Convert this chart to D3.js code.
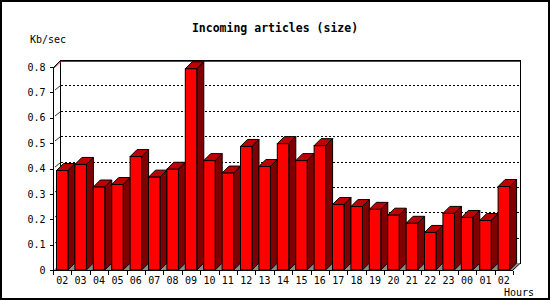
<!DOCTYPE html>
<html>
<head>
<meta charset="utf-8">
<script src="https://cdn.jsdelivr.net/npm/d3@7"></script>
<style>
  body { margin: 0; background: #fff; }
  svg text { font-family: "DejaVu Sans Mono", monospace; }
</style>
</head>
<body>
<div id="chart"></div>
<script>
// Hour labels and incoming size (Kb/sec)
const hours = ["02", "03", "04", "05", "06", "07", "08", "09", "10", "11", "12", "13",
               "14", "15", "16", "17", "18", "19", "20", "21", "22", "23", "00", "01", "02"];
const kbPerSec = [0.392, 0.416, 0.327, 0.337, 0.447, 0.366, 0.397, 0.793, 0.431, 0.382,
                  0.487, 0.408, 0.498, 0.431, 0.490, 0.258, 0.250, 0.239, 0.216, 0.184,
                  0.148, 0.223, 0.207, 0.195, 0.329];
const yTicks = [0, 0.1, 0.2, 0.3, 0.4, 0.5, 0.6, 0.7, 0.8];

const width = 550, height = 300;
const depth = 7;          // 3d offset
const plotLeft = 53, plotRight = 513, plotBottom = 270, plotTop = 67;

const svg = d3.select("#chart").append("svg")
    .attr("width", width)
    .attr("height", height);

// outer frame
svg.append("rect")
    .attr("x", 1).attr("y", 1)
    .attr("width", width - 2).attr("height", height - 2)
    .attr("fill", "#fff")
    .attr("stroke", "#000")
    .attr("stroke-width", 2);

const x = d3.scaleBand()
    .domain(d3.range(hours.length))
    .range([plotLeft, plotRight]);

const y = d3.scaleLinear()
    .domain([0, 0.8])
    .range([plotBottom, plotTop]);

const g = svg.append("g").attr("shape-rendering", "crispEdges");

// back plane edges
g.append("line")
    .attr("x1", plotLeft + depth + 0.5).attr("x2", plotLeft + depth + 0.5)
    .attr("y1", y(0.8) - depth).attr("y2", plotBottom - depth)
    .attr("stroke", "#000");
g.append("line")
    .attr("x1", plotRight + depth + 0.5).attr("x2", plotRight + depth + 0.5)
    .attr("y1", y(0.8) - depth).attr("y2", plotBottom - depth + 0.5)
    .attr("stroke", "#000");

// gridlines on back plane and left wall
const grid = yTicks.filter(t => t > 0 && t < 0.8);
g.selectAll("line.grid")
    .data(grid)
    .enter().append("line")
    .attr("class", "grid")
    .attr("x1", plotLeft + depth + 1).attr("x2", plotRight + depth)
    .attr("y1", d => Math.round(y(d)) - depth + 0.5)
    .attr("y2", d => Math.round(y(d)) - depth + 0.5)
    .attr("stroke", "#000")
    .attr("stroke-dasharray", "2,2");
svg.selectAll("line.wall")
    .data(grid)
    .enter().append("line")
    .attr("class", "wall")
    .attr("x1", plotLeft + 2).attr("x2", plotLeft + depth)
    .attr("y1", d => Math.round(y(d)) - 2)
    .attr("y2", d => Math.round(y(d)) - depth + 1)
    .attr("stroke", "#000")
    .attr("stroke-width", 0.8);

// top edge, black with red under it
svg.append("polyline")
    .attr("points", [[plotLeft + 0.5, y(0.8) + 0.5], [plotLeft + depth + 0.5, y(0.8) - depth + 0.5], [plotRight + depth + 0.5, y(0.8) - depth + 0.5]])
    .attr("fill", "none").attr("stroke", "#000");
svg.append("polyline")
    .attr("points", [[plotLeft + 0.5, y(0.8) + 1.5], [plotLeft + depth + 1, y(0.8) - depth + 1.5], [plotRight + depth, y(0.8) - depth + 1.5]])
    .attr("fill", "none").attr("stroke", "#f00");

// gray floor, seen between the bars
svg.append("polygon")
    .attr("points", [[plotLeft + 1, plotBottom], [plotLeft + depth + 1, plotBottom - depth],
                     [plotRight + depth, plotBottom - depth], [plotRight, plotBottom]].join(" "))
    .attr("fill", "#8c8c8c");

// bars
const off = 3.5, bw = 11.5;
const bars = svg.append("g").selectAll("g")
    .data(kbPerSec)
    .enter().append("g");

bars.append("polygon")
    .attr("points", (d, i) => {
        const x0 = x(i) + off, x1 = x0 + bw, yt = y(d);
        return [[x0, yt], [x0 + depth, yt - depth], [x1 + depth, yt - depth], [x1, yt]].join(" ");
    })
    .attr("fill", "#c00000")
    .attr("stroke", "#000")
    .attr("stroke-linejoin", "round");

bars.append("polygon")
    .attr("points", (d, i) => {
        const x1 = x(i) + off + bw, yt = y(d);
        return [[x1, yt], [x1 + depth, yt - depth], [x1 + depth, plotBottom - depth], [x1, plotBottom]].join(" ");
    })
    .attr("fill", "#800000")
    .attr("stroke", "#000")
    .attr("stroke-linejoin", "round");

bars.append("rect")
    .attr("x", (d, i) => x(i) + off)
    .attr("y", d => y(d))
    .attr("width", bw)
    .attr("height", d => plotBottom - y(d))
    .attr("fill", "#f00")
    .attr("stroke", "#000");

// floor right edge
svg.append("line")
    .attr("x1", plotRight).attr("y1", plotBottom)
    .attr("x2", plotRight + depth + 0.5).attr("y2", plotBottom - depth)
    .attr("stroke", "#000");

// y axis
const yAxis = svg.append("g")
    .attr("transform", `translate(${plotLeft + 0.5},0)`)
    .call(d3.axisLeft(y).tickValues(yTicks).tickSize(4).tickPadding(4)
        .tickFormat(d => d === 0 ? "0" : d3.format(".1f")(d)));
yAxis.select(".domain").attr("d", `M0,${y(0.8)}V${plotBottom}`).attr("shape-rendering", "crispEdges");
yAxis.selectAll(".tick line").attr("shape-rendering", "crispEdges");
yAxis.selectAll("text")
    .attr("font-family", "DejaVu Sans Mono")
    .attr("font-size", 10)
    .attr("fill", "#000");

// x axis
const xAxis = svg.append("g")
    .attr("transform", `translate(0,${plotBottom + 0.5})`)
    .call(d3.axisBottom(x).tickSize(0).tickPadding(6).tickFormat(i => hours[i]));
xAxis.select(".domain").attr("d", `M${plotLeft},0H${plotRight}`).attr("shape-rendering", "crispEdges");
xAxis.selectAll("text")
    .attr("font-family", "DejaVu Sans Mono")
    .attr("font-size", 10)
    .attr("fill", "#000");
xAxis.selectAll("line.bound")
    .data(d3.range(hours.length + 1))
    .enter().append("line")
    .attr("class", "bound")
    .attr("x1", i => Math.round(plotLeft + i * x.step()) + 0.5)
    .attr("x2", i => Math.round(plotLeft + i * x.step()) + 0.5)
    .attr("y1", 0).attr("y2", 4)
    .attr("stroke", "#000")
    .attr("shape-rendering", "crispEdges");

// titles
svg.append("text")
    .attr("x", 275).attr("y", 32)
    .attr("text-anchor", "middle")
    .attr("font-size", 11.5)
    .attr("font-weight", "bold")
    .text("Incoming articles (size)");

svg.append("text")
    .attr("x", 30).attr("y", 43)
    .attr("font-size", 10)
    .text("Kb/sec");

svg.append("text")
    .attr("x", 504).attr("y", 296)
    .attr("font-size", 10)
    .text("Hours");
</script>
</body>
</html>
